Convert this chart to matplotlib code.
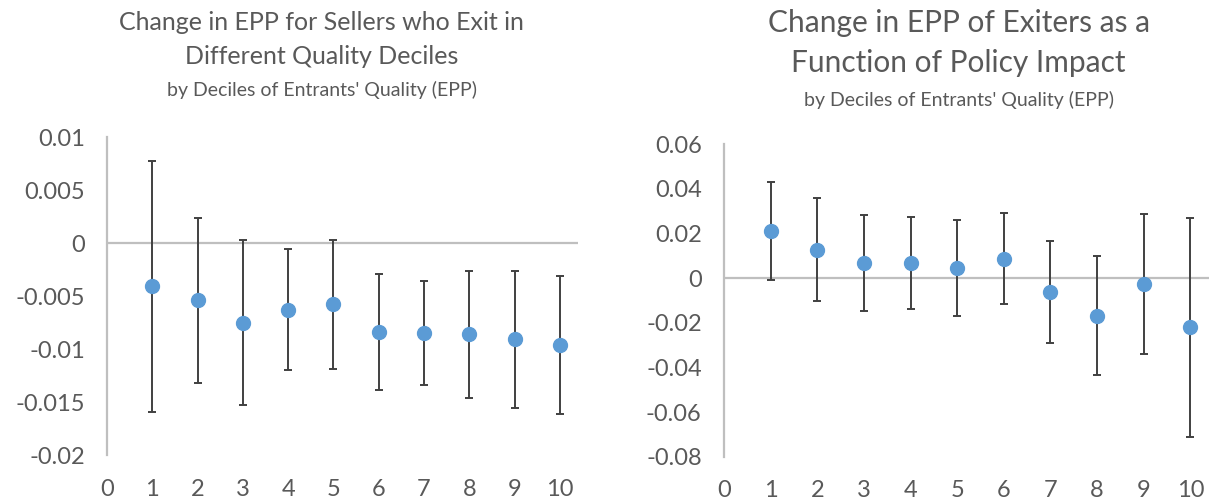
import matplotlib
matplotlib.use("Agg")
import numpy as np
import matplotlib.pyplot as plt

plt.rcParams['font.family'] = ['Lato', 'DejaVu Sans']

deciles = [1, 2, 3, 4, 5, 6, 7, 8, 9, 10]
x_ticks = [0, 1, 2, 3, 4, 5, 6, 7, 8, 9, 10]

# left panel: change in EPP for exiting sellers, by decile
exit_epp = [-0.0041, -0.0054, -0.0075, -0.0063, -0.0058,
            -0.0084, -0.0085, -0.0086, -0.0091, -0.0096]
exit_err = [0.0118, 0.0078, 0.0078, 0.0057, 0.0061,
            0.0055, 0.0049, 0.0060, 0.0065, 0.0065]
left_yticks = [0.01, 0.005, 0, -0.005, -0.01, -0.015, -0.02]
left_ylabels = ['0.01', '0.005', '0', '-0.005', '-0.01', '-0.015', '-0.02']

# right panel: change in EPP of exiters vs policy impact
policy_epp = [0.0211, 0.0127, 0.0067, 0.0067, 0.0045,
              0.0087, -0.0063, -0.0168, -0.0027, -0.0220]
policy_err = [0.0220, 0.0230, 0.0214, 0.0207, 0.0215,
              0.0205, 0.0228, 0.0265, 0.0314, 0.0490]
right_yticks = [0.06, 0.04, 0.02, 0, -0.02, -0.04, -0.06, -0.08]
right_ylabels = ['0.06', '0.04', '0.02', '0', '-0.02', '-0.04', '-0.06', '-0.08']

TEXT = '#595959'
GRID = '#BFBFBF'
BLUE = '#5B9BD5'
BAR = '#404040'


def draw_panel(ax, y, err, yticks, ylabels):
    ax.axhline(0, color=GRID, lw=1.6, zorder=1)
    ax.errorbar(deciles, y, yerr=err, fmt='o', color=BLUE, ms=10,
                ecolor=BAR, elinewidth=1.4, capsize=3, capthick=1.4, zorder=3)
    ax.set_xlim(0, 10.4)
    ax.set_ylim(min(yticks), max(yticks))
    ax.set_xticks(x_ticks)
    ax.set_xticklabels([str(t) for t in x_ticks])
    ax.set_yticks(yticks)
    ax.set_yticklabels(ylabels)
    ax.tick_params(length=0, labelsize=17, colors=TEXT, pad=16)
    ax.tick_params(axis='x', pad=17)
    for s in ['top', 'right', 'bottom']:
        ax.spines[s].set_visible(False)
    ax.spines['left'].set_color(GRID)
    ax.spines['left'].set_linewidth(1.6)
    ax.patch.set_alpha(0)


fig = plt.figure(figsize=(12.09, 5.03), dpi=100)
ax1 = fig.add_axes([0.0885, 0.0954, 0.3896, 0.6322])
ax2 = fig.add_axes([0.5988, 0.092, 0.4012, 0.6217])

draw_panel(ax1, exit_epp, exit_err, left_yticks, left_ylabels)
draw_panel(ax2, policy_epp, policy_err, right_yticks, right_ylabels)

fig.text(0.266, 0.955, 'Change in EPP for Sellers who Exit in', ha='center',
         va='center', fontsize=18, color=TEXT)
fig.text(0.266, 0.888, 'Different Quality Deciles', ha='center',
         va='center', fontsize=18, color=TEXT)
fig.text(0.266, 0.821, "by Deciles of Entrants' Quality (EPP)", ha='center',
         va='center', fontsize=14, color=TEXT)

fig.text(0.793, 0.955, 'Change in EPP of Exiters as a', ha='center',
         va='center', fontsize=21.5, color=TEXT)
fig.text(0.793, 0.875, 'Function of Policy Impact', ha='center',
         va='center', fontsize=21.5, color=TEXT)
fig.text(0.793, 0.801, "by Deciles of Entrants' Quality (EPP)", ha='center',
         va='center', fontsize=14, color=TEXT)

fig.savefig('out.png', dpi=100)
